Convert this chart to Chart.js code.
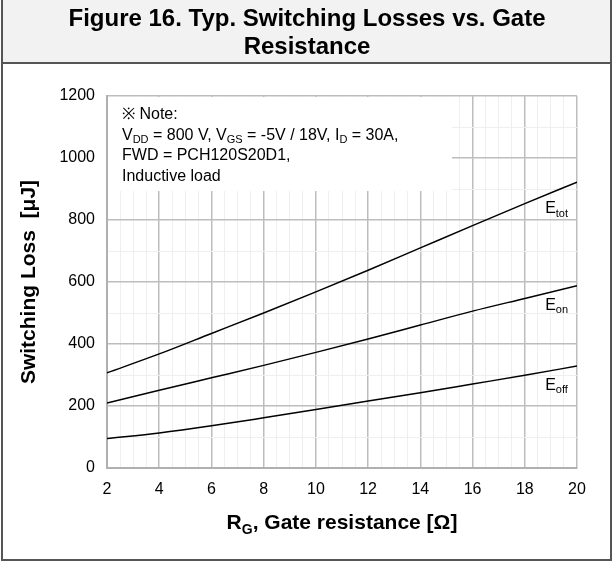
<!DOCTYPE html>
<html>
<head>
<meta charset="utf-8">
<script src="https://cdn.jsdelivr.net/npm/chart.js@4.4.1/dist/chart.umd.min.js"></script>
<style>
  html, body { margin: 0; padding: 0; background: #ffffff; }
  #wrap { position: relative; width: 613px; height: 563px; }
  canvas { display: block; }
</style>
</head>
<body>
<div id="wrap"><canvas id="c" width="613" height="563"></canvas></div>
<script>
// ---- data ----
const rgValues   = [2, 4, 6, 8, 10, 12, 14, 16, 18, 20];          // Gate resistance [Ω]
const eTotValues = [307, 368, 434, 500, 568, 638, 710, 782, 853, 922]; // µJ
const eOnValues  = [210, 251, 291, 331, 373, 416, 461, 506, 547, 588]; // µJ
const eOffValues = [95, 113, 136, 162, 189, 216, 243, 271, 299, 329];  // µJ
const xTickLabels = [2, 4, 6, 8, 10, 12, 14, 16, 18, 20];
const yTickLabels = [0, 200, 400, 600, 800, 1000, 1200];
const titleLines = ['Figure 16. Typ. Switching Losses vs. Gate', 'Resistance'];
const yTitle = 'Switching Loss  [μJ]';
const noteLines = [
  [['※ Note:', 'n']],
  [['V', 'n'], ['DD', 's'], [' = 800 V, V', 'n'], ['GS', 's'], [' = -5V / 18V, I', 'n'], ['D', 's'], [' = 30A,', 'n']],
  [['FWD = PCH120S20D1,', 'n']],
  [['Inductive load', 'n']]
];
const curveLabels = [
  { parts: [['E', 'n'], ['tot', 's']], value: 822, at: 18.78 },
  { parts: [['E', 'n'], ['on', 's']], value: 510, at: 18.78 },
  { parts: [['E', 'n'], ['off', 's']], value: 252, at: 18.78 }
];

const FONT = '"Liberation Sans", Arial, Helvetica, sans-serif';

function toXY(ys) { return rgValues.map((x, i) => ({ x: x, y: ys[i] })); }

function drawRich(ctx, parts, x, y, size, bold, align) {
  const w = bold ? 'bold ' : '';
  const subSize = Math.round(size * 0.68);
  let total = 0;
  parts.forEach(p => {
    ctx.font = w + (p[1] === 's' ? subSize : size) + 'px ' + FONT;
    total += ctx.measureText(p[0]).width;
  });
  let cx = align === 'center' ? x - total / 2 : x;
  ctx.textBaseline = 'alphabetic';
  ctx.textAlign = 'left';
  parts.forEach(p => {
    const sub = p[1] === 's';
    ctx.font = w + (sub ? subSize : size) + 'px ' + FONT;
    ctx.fillText(p[0], cx, sub ? y + size * 0.22 : y);
    cx += ctx.measureText(p[0]).width;
  });
}

const decor = {
  id: 'decor',
  beforeDraw(chart) {
    const ctx = chart.ctx;
    ctx.save();
    ctx.fillStyle = '#ffffff';
    ctx.fillRect(0, 0, chart.width, chart.height);
    // title band
    ctx.fillStyle = '#f2f2f2';
    ctx.fillRect(2, 0, 609, 63);
    ctx.strokeStyle = '#555555';
    ctx.lineWidth = 2;
    ctx.beginPath();
    ctx.moveTo(2, 63); ctx.lineTo(611, 63);
    ctx.moveTo(2, 0); ctx.lineTo(2, 560); ctx.lineTo(611, 560); ctx.lineTo(611, 0);
    ctx.stroke();
    ctx.fillStyle = '#000000';
    ctx.font = 'bold 24px ' + FONT;
    ctx.textAlign = 'center';
    ctx.textBaseline = 'alphabetic';
    ctx.fillText(titleLines[0], 307, 26);
    ctx.fillText(titleLines[1], 307, 54);
    ctx.restore();
  },
  beforeDatasetsDraw(chart) {
    const ctx = chart.ctx;
    const a = chart.chartArea;
    ctx.save();
    // note box
    ctx.fillStyle = '#ffffff';
    ctx.fillRect(a.left + 1, a.top + 1, 452 - a.left - 1, 191 - a.top - 1);
    ctx.fillStyle = '#000000';
    noteLines.forEach((ln, i) => drawRich(ctx, ln, 122, 119 + i * 20.5, 16, false, 'left'));
    ctx.restore();
  },
  afterDraw(chart) {
    const ctx = chart.ctx;
    const xs = chart.scales.x, ys = chart.scales.y;
    ctx.save();
    ctx.fillStyle = '#000000';
    curveLabels.forEach(l => {
      drawRich(ctx, l.parts, xs.getPixelForValue(l.at), ys.getPixelForValue(l.value), 16, false, 'left');
    });
    // x-axis title with subscript
    drawRich(ctx, [['R', 'n'], ['G', 's'], [', Gate resistance [Ω]', 'n']], (xs.left + xs.right) / 2, 529, 21, true, 'center');
    ctx.restore();
  }
};

new Chart(document.getElementById('c'), {
  type: 'line',
  data: {
    datasets: [
      { label: 'Etot', data: toXY(eTotValues) },
      { label: 'Eon', data: toXY(eOnValues) },
      { label: 'Eoff', data: toXY(eOffValues) }
    ]
  },
  options: {
    responsive: false,
    animation: false,
    devicePixelRatio: 1,
    layout: { padding: { top: 96, right: 36, left: 0, bottom: 0 } },
    elements: {
      line: { borderColor: '#000000', borderWidth: 1.5, tension: 0.4, fill: false, cubicInterpolationMode: 'monotone' },
      point: { radius: 0, hoverRadius: 0 }
    },
    plugins: { legend: { display: false }, tooltip: { enabled: false }, title: { display: false } },
    scales: {
      x: {
        type: 'linear', min: 2, max: 20,
        afterFit(s) { s.height = 95; },
        afterBuildTicks(s) {
          const t = [];
          for (let v = 2; v <= 20.001; v += 0.5) t.push({ value: v });
          s.ticks = t;
        },
        ticks: {
          autoSkip: false, maxRotation: 0, padding: 12,
          font: { family: FONT, size: 16 }, color: '#000000',
          callback: v => xTickLabels.includes(v) ? String(v) : ''
        },
        grid: {
          drawTicks: false,
          color: c => (c.tick && xTickLabels.includes(c.tick.value)) ? '#bdbdbd' : '#efefef',
          lineWidth: c => (c.tick && xTickLabels.includes(c.tick.value)) ? 1.5 : 1
        },
        border: { display: true, color: '#b0b0b0', width: 2 }
      },
      y: {
        type: 'linear', min: 0, max: 1200,
        afterFit(s) { s.width = 107; },
        afterBuildTicks(s) {
          const t = [];
          for (let v = 0; v <= 1200; v += 100) t.push({ value: v });
          s.ticks = t;
        },
        ticks: {
          autoSkip: false, padding: 12,
          font: { family: FONT, size: 16 }, color: '#000000',
          callback: v => yTickLabels.includes(v) ? String(v) : ''
        },
        grid: {
          drawTicks: false,
          color: c => (c.tick && yTickLabels.includes(c.tick.value)) ? '#bdbdbd' : '#efefef',
          lineWidth: c => (c.tick && yTickLabels.includes(c.tick.value)) ? 1.5 : 1
        },
        border: { display: true, color: '#b0b0b0', width: 2 },
        title: {
          display: true, text: yTitle, color: '#000000',
          font: { family: FONT, size: 21, weight: 'bold' },
          padding: { top: 17, bottom: 0 }
        }
      }
    }
  },
  plugins: [decor]
});
</script>
</body>
</html>
